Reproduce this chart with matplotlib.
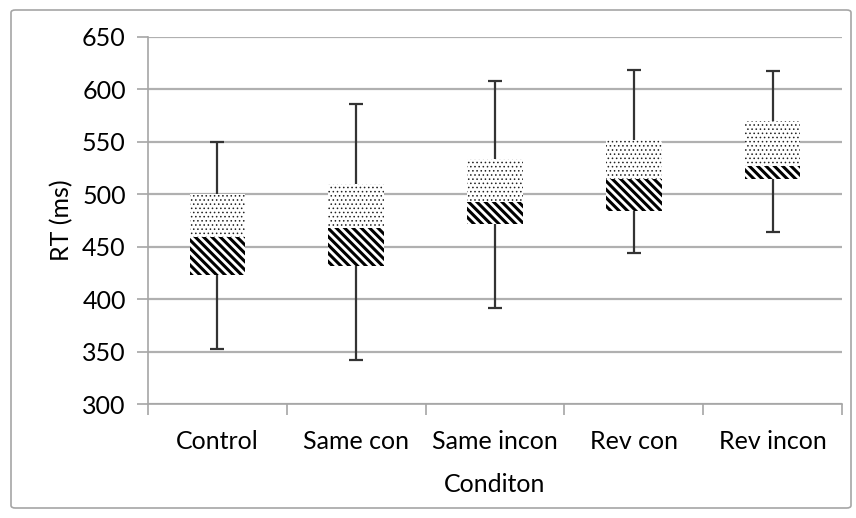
import matplotlib.pyplot as plt
import numpy as np
from matplotlib.patches import FancyBboxPatch

# data (ms)
categories = ['Control', 'Same con', 'Same incon', 'Rev con', 'Rev incon']
lo = [352, 342, 392, 444, 464]
q1 = [423, 432, 472, 484, 515]
med = [459, 468, 493, 515, 527]
q3 = [500, 510, 534, 552, 570]
hi = [550, 586, 608, 619, 618]

plt.rcParams['font.family'] = ['Lato', 'DejaVu Sans']

fig = plt.figure(figsize=(8.56, 5.18), dpi=100)
ax = fig.add_axes([148 / 856, 1 - 404 / 518, 694 / 856, 367 / 518])

x = np.arange(len(categories))
lo, q1, med, q3, hi = map(np.array, (lo, q1, med, q3, hi))

# whiskers
ax.errorbar(x, med, yerr=[med - lo, hi - med], fmt='none', ecolor='#333333',
            elinewidth=1.6, capsize=5, capthick=1.6, zorder=2)
# lower box: q1 -> median, upper box: median -> q3
with plt.rc_context({'hatch.linewidth': 2.2}):
    ax.bar(x, med - q1, bottom=q1, width=0.4, color='white', edgecolor='black',
           linewidth=0, hatch='\\\\\\\\', zorder=3)
with plt.rc_context({'hatch.linewidth': 0.6}):
    ax.bar(x, q3 - med, bottom=med, width=0.4, color='white', edgecolor='#222222',
           linewidth=0, hatch='....', zorder=3)

ax.set_ylim(300, 650)
ax.set_yticks(np.arange(300, 651, 50))
ax.set_xlim(-0.5, len(categories) - 0.5)
ax.set_xticks(x)
ax.set_xticklabels(categories)
ax.set_xticks(np.arange(-0.5, len(categories)), minor=True)
ax.tick_params(axis='x', which='major', length=0, pad=19, labelsize=18)
ax.tick_params(axis='x', which='minor', length=8, color='#a6a6a6', width=1.2)
ax.tick_params(axis='y', length=8, color='#a6a6a6', width=1.2, pad=8, labelsize=18)
ax.yaxis.grid(True, color='#b0b0b0', linewidth=1.6)
ax.set_axisbelow(True)
for s in ['top', 'right']:
    ax.spines[s].set_visible(False)
for s in ['left', 'bottom']:
    ax.spines[s].set_color('#a6a6a6')
    ax.spines[s].set_linewidth(1.2)

ax.set_ylabel('RT (ms)', fontsize=18, labelpad=6)
ax.set_xlabel('Conditon', fontsize=18, labelpad=14)

fig.patches.append(FancyBboxPatch((11 / 856, 10 / 518), 840 / 856, 498 / 518,
                                  boxstyle='round,pad=0,rounding_size=0.005',
                                  transform=fig.transFigure, facecolor='none',
                                  edgecolor='#a6a6a6', linewidth=1.2))

fig.savefig('out.png', dpi=100)
